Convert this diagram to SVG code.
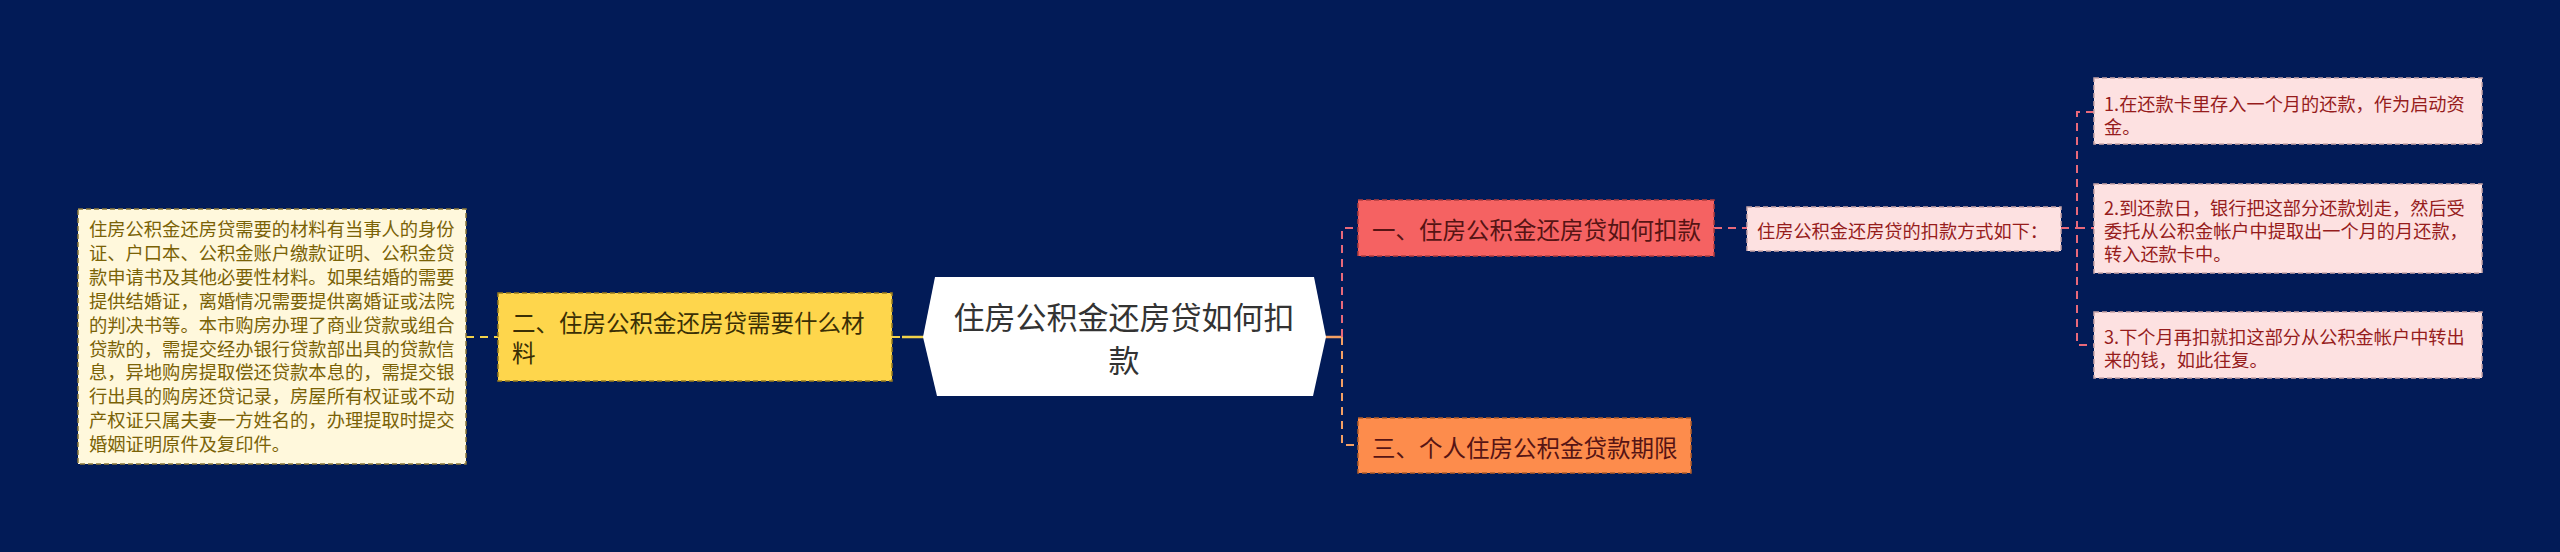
<svg xmlns="http://www.w3.org/2000/svg" width="2560" height="552" viewBox="0 0 2560 552">
<style>
text{font-family:"Noto Sans CJK SC","Microsoft YaHei",sans-serif;dominant-baseline:central}
.box{stroke-width:1.5;stroke-dasharray:5 3}
.c{fill:none;stroke-width:2;stroke-dasharray:8 6}
.s{fill:none;stroke-width:2.5}
.t0{font-size:18.3px;fill:#7a6206}
.t1{font-size:23.5px;fill:#3a2f05}
.tr{font-size:23.5px;fill:#561414}
.tp{font-size:18.2px;fill:#961c1c}
</style>
<rect width="2560" height="552" fill="#021b57"/>
<g id="connectors">
<path class="c" d="M466 337H498" stroke="#f2d24a"/>
<path class="c" d="M892 337H906" stroke="#f2d24a"/>
<path class="s" d="M902 337H924" stroke="#f2d24a"/>
<path class="s" d="M1325 337H1342" stroke="#f4a064"/>
<path class="c" d="M1342 337V228H1358" stroke="#e8697a" stroke-dasharray="6 5"/>
<path class="c" d="M1342 337V445H1358" stroke="#f4a064" stroke-dasharray="6 5"/>
<path class="c" d="M1714 228H1747" stroke="#e8697a"/>
<path class="c" d="M2061 228H2077" stroke="#e8697a"/>
<path class="c" d="M2094 112H2077V345H2094" stroke="#e8697a" stroke-width="1.8" stroke-dasharray="7 6"/>
<path class="c" d="M2077 228H2094" stroke="#e8697a" stroke-width="1.8"/>
</g>
<g id="n-left">
<rect class="box" x="78" y="209" width="388" height="255" fill="#fff8dc" stroke="#8d7a3a"/>
<text class="t0" x="89"><tspan x="89" y="228">住房公积金还房贷需要的材料有当事人的身份</tspan><tspan x="89" y="251.9">证、户口本、公积金账户缴款证明、公积金贷</tspan><tspan x="89" y="275.8">款申请书及其他必要性材料。如果结婚的需要</tspan><tspan x="89" y="299.7">提供结婚证，离婚情况需要提供离婚证或法院</tspan><tspan x="89" y="323.6">的判决书等。本市购房办理了商业贷款或组合</tspan><tspan x="89" y="347.5">贷款的，需提交经办银行贷款部出具的贷款信</tspan><tspan x="89" y="371.4">息，异地购房提取偿还贷款本息的，需提交银</tspan><tspan x="89" y="395.3">行出具的购房还贷记录，房屋所有权证或不动</tspan><tspan x="89" y="419.2">产权证只属夫妻一方姓名的，办理提取时提交</tspan><tspan x="89" y="443.1">婚姻证明原件及复印件。</tspan></text>
</g>
<g id="n-2">
<rect class="box" x="498" y="293" width="394" height="88" fill="#fed64c" stroke="#9a7d1c"/>
<text class="t1"><tspan x="512" y="322">二、住房公积金还房贷需要什么材</tspan><tspan x="512" y="352">料</tspan></text>
</g>
<g id="n-center">
<polygon points="935,277 1314,277 1326,337 1313,396 937,396 923,337" fill="#ffffff"/>
<text font-size="31" fill="#333333" text-anchor="middle"><tspan x="1124" y="315">住房公积金还房贷如何扣</tspan><tspan x="1124" y="358">款</tspan></text>
</g>
<g id="n-1">
<rect class="box" x="1358" y="200" width="356" height="56" fill="#f56262" stroke="#b13c3c"/>
<text class="tr" x="1372" y="229">一、住房公积金还房贷如何扣款</text>
</g>
<g id="n-3">
<rect class="box" x="1358" y="418" width="333" height="55" fill="#fd8c4c" stroke="#b45e28"/>
<text class="tr" x="1372" y="447" fill="#5a2410">三、个人住房公积金贷款期限</text>
</g>
<g id="n-1-1">
<rect class="box" x="1747" y="207" width="314" height="44" fill="#fde1e1" stroke="#c9a5a8"/>
<text class="tp" x="1757" y="230" font-size="17.7">住房公积金还房贷的扣款方式如下：</text>
</g>
<g id="n-a">
<rect class="box" x="2094" y="78" width="388" height="66" fill="#fde1e1" stroke="#c9a5a8"/>
<text class="tp"><tspan x="2104" y="103">1.在还款卡里存入一个月的还款，作为启动资</tspan><tspan x="2104" y="125.5">金。</tspan></text>
</g>
<g id="n-b">
<rect class="box" x="2094" y="184" width="388" height="89" fill="#fde1e1" stroke="#c9a5a8"/>
<text class="tp"><tspan x="2104" y="207">2.到还款日，银行把这部分还款划走，然后受</tspan><tspan x="2104" y="230">委托从公积金帐户中提取出一个月的月还款，</tspan><tspan x="2104" y="253">转入还款卡中。</tspan></text>
</g>
<g id="n-c">
<rect class="box" x="2094" y="312" width="388" height="66" fill="#fde1e1" stroke="#c9a5a8"/>
<text class="tp"><tspan x="2104" y="336">3.下个月再扣就扣这部分从公积金帐户中转出</tspan><tspan x="2104" y="358.5">来的钱，如此往复。</tspan></text>
</g>
</svg>
